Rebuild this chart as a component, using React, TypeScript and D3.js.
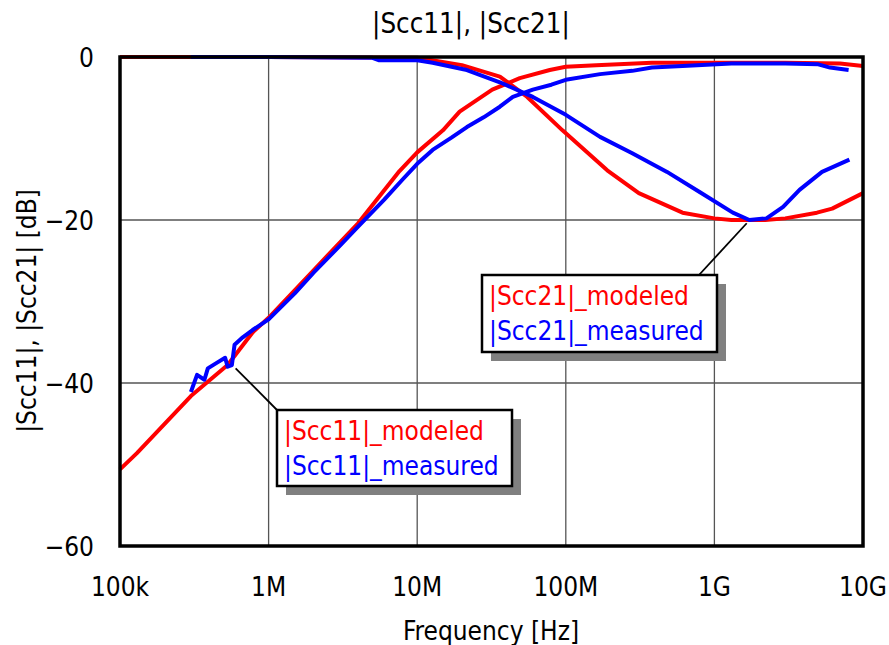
import React from "react";
import * as d3 from "d3";

// |Scc11|, |Scc21| vs frequency, log x axis

const W = 889;
const H = 645;
const margin = { top: 57, right: 26, bottom: 99, left: 120 };

const xTicks = [1e5, 1e6, 1e7, 1e8, 1e9, 1e10];
const xTickLabels = ["100k", "1M", "10M", "100M", "1G", "10G"];
const yTicks = [0, -20, -40, -60];
const yTickLabels = ["0", "\u221220", "\u221240", "\u221260"];

// |Scc11| modeled
const s11ModF = [1e5, 1.3e5, 3e5, 5.3e5, 7.8e5, 1e6, 2e6, 4e6, 7.6e6, 1e7, 1.49e7, 1.93e7, 3.2e7, 4.9e7, 7.8e7, 1e8, 1.6e8, 3.8e8, 1e9, 3e9, 7e9, 1e10];
const s11ModDb = [-50.6, -48.6, -41.6, -37.8, -33.8, -32, -26.2, -20.4, -14, -11.7, -9, -6.7, -4, -2.6, -1.6, -1.2, -1.0, -0.7, -0.7, -0.7, -0.8, -1.1];

// |Scc11| measured
const s11MeasF = [3e5, 3.3e5, 3.7e5, 3.9e5, 4.5e5, 5.1e5, 5.3e5, 5.66e5, 5.9e5, 6.7e5, 7.8e5, 1e6, 1.5e6, 2e6, 3e6, 4e6, 6e6, 8e6, 1e7, 1.27e7, 1.7e7, 2.16e7, 2.8e7, 3.6e7, 4.4e7, 6e7, 8e7, 1e8, 1.7e8, 2.8e8, 3.8e8, 6.1e8, 1.3e9, 3e9, 5e9, 6e9, 8e9];
const s11MeasDb = [-41.1, -39, -39.6, -38.2, -37.5, -36.9, -38, -37.8, -35.3, -34.4, -33.5, -32.2, -29, -26.5, -23.2, -20.8, -17.5, -15, -13.1, -11.4, -9.9, -8.6, -7.4, -6.1, -4.9, -4, -3.4, -2.8, -2.1, -1.7, -1.3, -1.1, -0.8, -0.8, -0.9, -1.3, -1.6];

// |Scc21| modeled
const s21ModF = [1e5, 1e6, 1e7, 2e7, 3.6e7, 5.5e7, 9.5e7, 1.9e8, 3.1e8, 6.1e8, 1e9, 1.3e9, 2.2e9, 3e9, 4.9e9, 6.2e9, 1e10];
const s21ModDb = [0, 0, -0.1, -1.0, -2.4, -4.9, -9, -13.9, -16.7, -19.1, -19.8, -20, -20, -19.8, -19.1, -18.6, -16.7];

// |Scc21| measured
const s21MeasF = [3e5, 1e6, 5e6, 5.5e6, 1e7, 1.27e7, 2.16e7, 3.6e7, 6e7, 1e8, 1.7e8, 2.8e8, 4.8e8, 8e8, 1.33e9, 1.72e9, 2.24e9, 2.9e9, 3.74e9, 5.3e9, 8.1e9];
const s21MeasDb = [0, 0, -0.1, -0.4, -0.4, -0.7, -1.6, -3.1, -4.9, -7.1, -9.8, -11.8, -14.1, -16.6, -19.1, -20, -19.8, -18.4, -16.3, -14.1, -12.6];

const FONT = "'DejaVu Sans Condensed', 'DejaVu Sans', sans-serif";

function zip(f: number[], v: number[]): [number, number][] {
  return f.map((d, i) => [d, v[i]]);
}

export default function App() {
  const iw = W - margin.left - margin.right;
  const ih = H - margin.top - margin.bottom;
  const x = d3.scaleLog().domain([1e5, 1e10]).range([0, iw]);
  const y = d3.scaleLinear().domain([-60, 0]).range([ih, 0]);
  const line = d3
    .line<[number, number]>()
    .x((d) => x(d[0]))
    .y((d) => y(d[1]));

  const series = [
    { data: zip(s21ModF, s21ModDb), color: "#ff0000", w: 4 },
    { data: zip(s11ModF, s11ModDb), color: "#ff0000", w: 4 },
    { data: zip(s21MeasF, s21MeasDb), color: "#0000ff", w: 4 },
    { data: zip(s11MeasF, s11MeasDb), color: "#0000ff", w: 4 },
  ];

  // callouts: tip on the curve, box position in pixels
  const callouts = [
    { tip: [6.0e5, -38.2], box: { x: 277, y: 410, w: 235, h: 76 }, name: "Scc11" },
    { tip: [1.65e9, -20.4], box: { x: 482, y: 275, w: 235, h: 77 }, name: "Scc21" },
  ];

  return (
    <svg width={W} height={H} style={{ display: "block", position: "absolute", left: 0, top: 0 }}>
      <rect width={W} height={H} fill="#fff" />
      <text x={471} y={33} textAnchor="middle" fontFamily={FONT} fontSize={27.5}>
        |Scc11|, |Scc21|
      </text>
      <g transform={`translate(${margin.left},${margin.top})`}>
        {xTicks.slice(1, -1).map((t) => (
          <line key={"gx" + t} x1={x(t)} x2={x(t)} y1={0} y2={ih} stroke="#555" strokeWidth={1.3} />
        ))}
        {yTicks.slice(1, -1).map((t) => (
          <line key={"gy" + t} x1={0} x2={iw} y1={y(t)} y2={y(t)} stroke="#555" strokeWidth={1.3} />
        ))}
        {series.map((s, i) => (
          <path key={i} d={line(s.data) || ""} fill="none" stroke={s.color} strokeWidth={s.w} strokeLinejoin="round" />
        ))}
        <rect x={0} y={0} width={iw} height={ih} fill="none" stroke="#000" strokeWidth={3.5} />
        {xTicks.map((t, i) => (
          <text key={"tx" + t} x={x(t)} y={ih + 50} textAnchor="middle" fontFamily={FONT} fontSize={26}>
            {xTickLabels[i]}
          </text>
        ))}
        {yTicks.map((t, i) => (
          <text key={"ty" + t} x={-26} y={y(t) + 9.5} textAnchor="end" fontFamily={FONT} fontSize={26}>
            {yTickLabels[i]}
          </text>
        ))}
      </g>
      <text x={491} y={640} textAnchor="middle" fontFamily={FONT} fontSize={26}>
        Frequency [Hz]
      </text>
      <text
        transform={`translate(36,${311}) rotate(-90)`}
        textAnchor="middle"
        fontFamily={FONT}
        fontSize={26}
      >
        |Scc11|, |Scc21| [dB]
      </text>
      {callouts.map((c) => {
        const tx = margin.left + x(c.tip[0]);
        const ty = margin.top + y(c.tip[1]);
        const b = c.box;
        const cornerX = c.name === "Scc11" ? b.x : b.x + b.w - 18;
        return (
          <g key={c.name}>
            <line x1={tx} y1={ty} x2={cornerX} y2={b.y} stroke="#000" strokeWidth={1.8} />
            <rect x={b.x + 9} y={b.y + 9} width={b.w} height={b.h} fill="#808080" />
            <rect x={b.x} y={b.y} width={b.w} height={b.h} fill="#fff" stroke="#000" strokeWidth={2.5} />
            <text x={b.x + 7} y={b.y + 30} fontFamily={FONT} fontSize={26} fill="#ff0000">
              |{c.name}|_modeled
            </text>
            <text x={b.x + 7} y={b.y + 65} fontFamily={FONT} fontSize={26} fill="#0000ff">
              |{c.name}|_measured
            </text>
          </g>
        );
      })}
    </svg>
  );
}
